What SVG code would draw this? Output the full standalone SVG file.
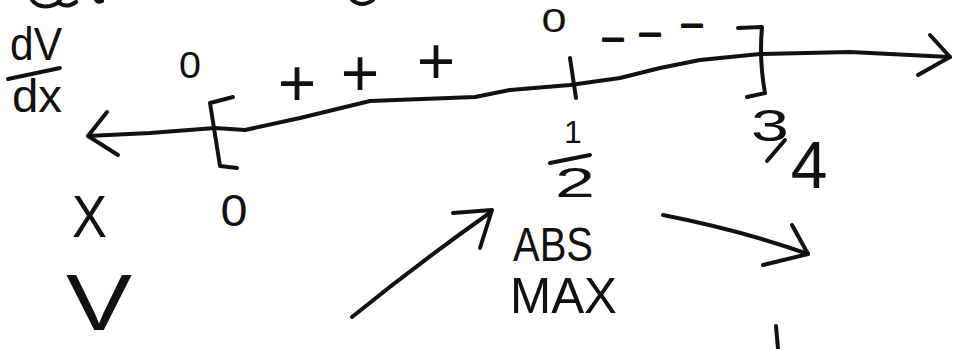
<svg xmlns="http://www.w3.org/2000/svg" width="954" height="349" viewBox="0 0 954 349">
<style>
.ink{fill:none;stroke:#111;stroke-width:4;stroke-linecap:round;stroke-linejoin:round}
.t{fill:#111;font-family:"Liberation Sans","DejaVu Sans",sans-serif}
.dash{stroke:#111;stroke-width:2;stroke-linejoin:round}
</style>
<rect width="954" height="349" fill="#fff"/>
<g id="top-fragments">
<path class="ink" d="M32,0 Q38,8 50,6 Q58,4 60,0 M58,2 Q66,9 76,2 M96,0 Q98,3 102,1 M352,0 Q362,8 373,0"/>
</g>
<g id="connectors">
<path class="ink" d="M88,136 L150,133 L215,128 L245,130 L300,118 L370,101 L475,97 L510,90 L570,85 L620,78 L660,68 L700,60 L760,54 L850,52 L950,57"/>
<path class="ink" d="M107,112 L88,136 L118,155"/>
<path class="ink" d="M930,35 L950,57 L918,75"/>
<path class="ink" d="M352,317 Q420,262 491,212"/>
<path class="ink" d="M453,213 L492,210 L480,248"/>
<path class="ink" d="M663,215 Q740,230 808,254"/>
<path class="ink" d="M792,225 L808,254 L763,265"/>
</g>
<g id="interval">
<path class="ink" d="M233,97 L210,103 L220,166 L237,168"/>
<path class="ink" d="M738,28 L762,27 Q759,60 765,93 L747,97"/>
<path class="ink" d="M570,58 L576,98"/>
</g>
<g id="dvdx">
<text class="t" x="10" y="60" font-size="46" textLength="52" lengthAdjust="spacingAndGlyphs">dV</text>
<path class="ink" d="M8,79 L60,68"/>
<text class="t" x="12" y="112" font-size="46" textLength="50" lengthAdjust="spacingAndGlyphs">dx</text>
</g>
<g id="signs">
<text class="t" x="190" y="78" font-size="36" text-anchor="middle" textLength="22" lengthAdjust="spacingAndGlyphs">0</text>
<text class="t" x="554" y="32" font-size="34" text-anchor="middle" textLength="25" lengthAdjust="spacingAndGlyphs">0</text>
<text class="t" x="297" y="106" font-size="66" text-anchor="middle">+</text>
<text class="t" x="360" y="96" font-size="66" text-anchor="middle">+</text>
<text class="t" x="436" y="84" font-size="66" text-anchor="middle">+</text>
<text class="t dash" x="613" y="49" font-size="36" text-anchor="middle">–</text>
<text class="t dash" x="650" y="44" font-size="36" text-anchor="middle">–</text>
<text class="t dash" x="692" y="35" font-size="36" text-anchor="middle">–</text>
</g>
<g id="label-0">
<text class="t" x="234" y="226" font-size="44" text-anchor="middle" textLength="27" lengthAdjust="spacingAndGlyphs">0</text>
</g>
<g id="label-half">
<text class="t" x="573" y="143" font-size="32" text-anchor="middle">1</text>
<path class="ink" d="M550,163 L590,155"/>
<text class="t" x="575" y="197" font-size="42" text-anchor="middle" textLength="40" lengthAdjust="spacingAndGlyphs">2</text>
</g>
<g id="label-threequarter">
<text class="t" x="770" y="141" font-size="44" text-anchor="middle" textLength="38" lengthAdjust="spacingAndGlyphs">3</text>
<path class="ink" d="M767,161 L785,140"/>
<text class="t" x="809" y="188" font-size="66" text-anchor="middle">4</text>
</g>
<g id="row-x">
<text class="t" x="72" y="237" font-size="60" textLength="35" lengthAdjust="spacingAndGlyphs">X</text>
</g>
<g id="row-v">
<text class="t" x="66" y="330" font-size="80" textLength="66" lengthAdjust="spacingAndGlyphs">V</text>
</g>
<g id="abs-max">
<text class="t" x="513" y="261" font-size="48" textLength="80" lengthAdjust="spacingAndGlyphs">ABS</text>
<text class="t" x="510" y="313" font-size="50" textLength="107" lengthAdjust="spacingAndGlyphs">MAX</text>
</g>
<g id="bottom-tick">
<path class="ink" d="M776,326 L778,349"/>
</g>
</svg>
